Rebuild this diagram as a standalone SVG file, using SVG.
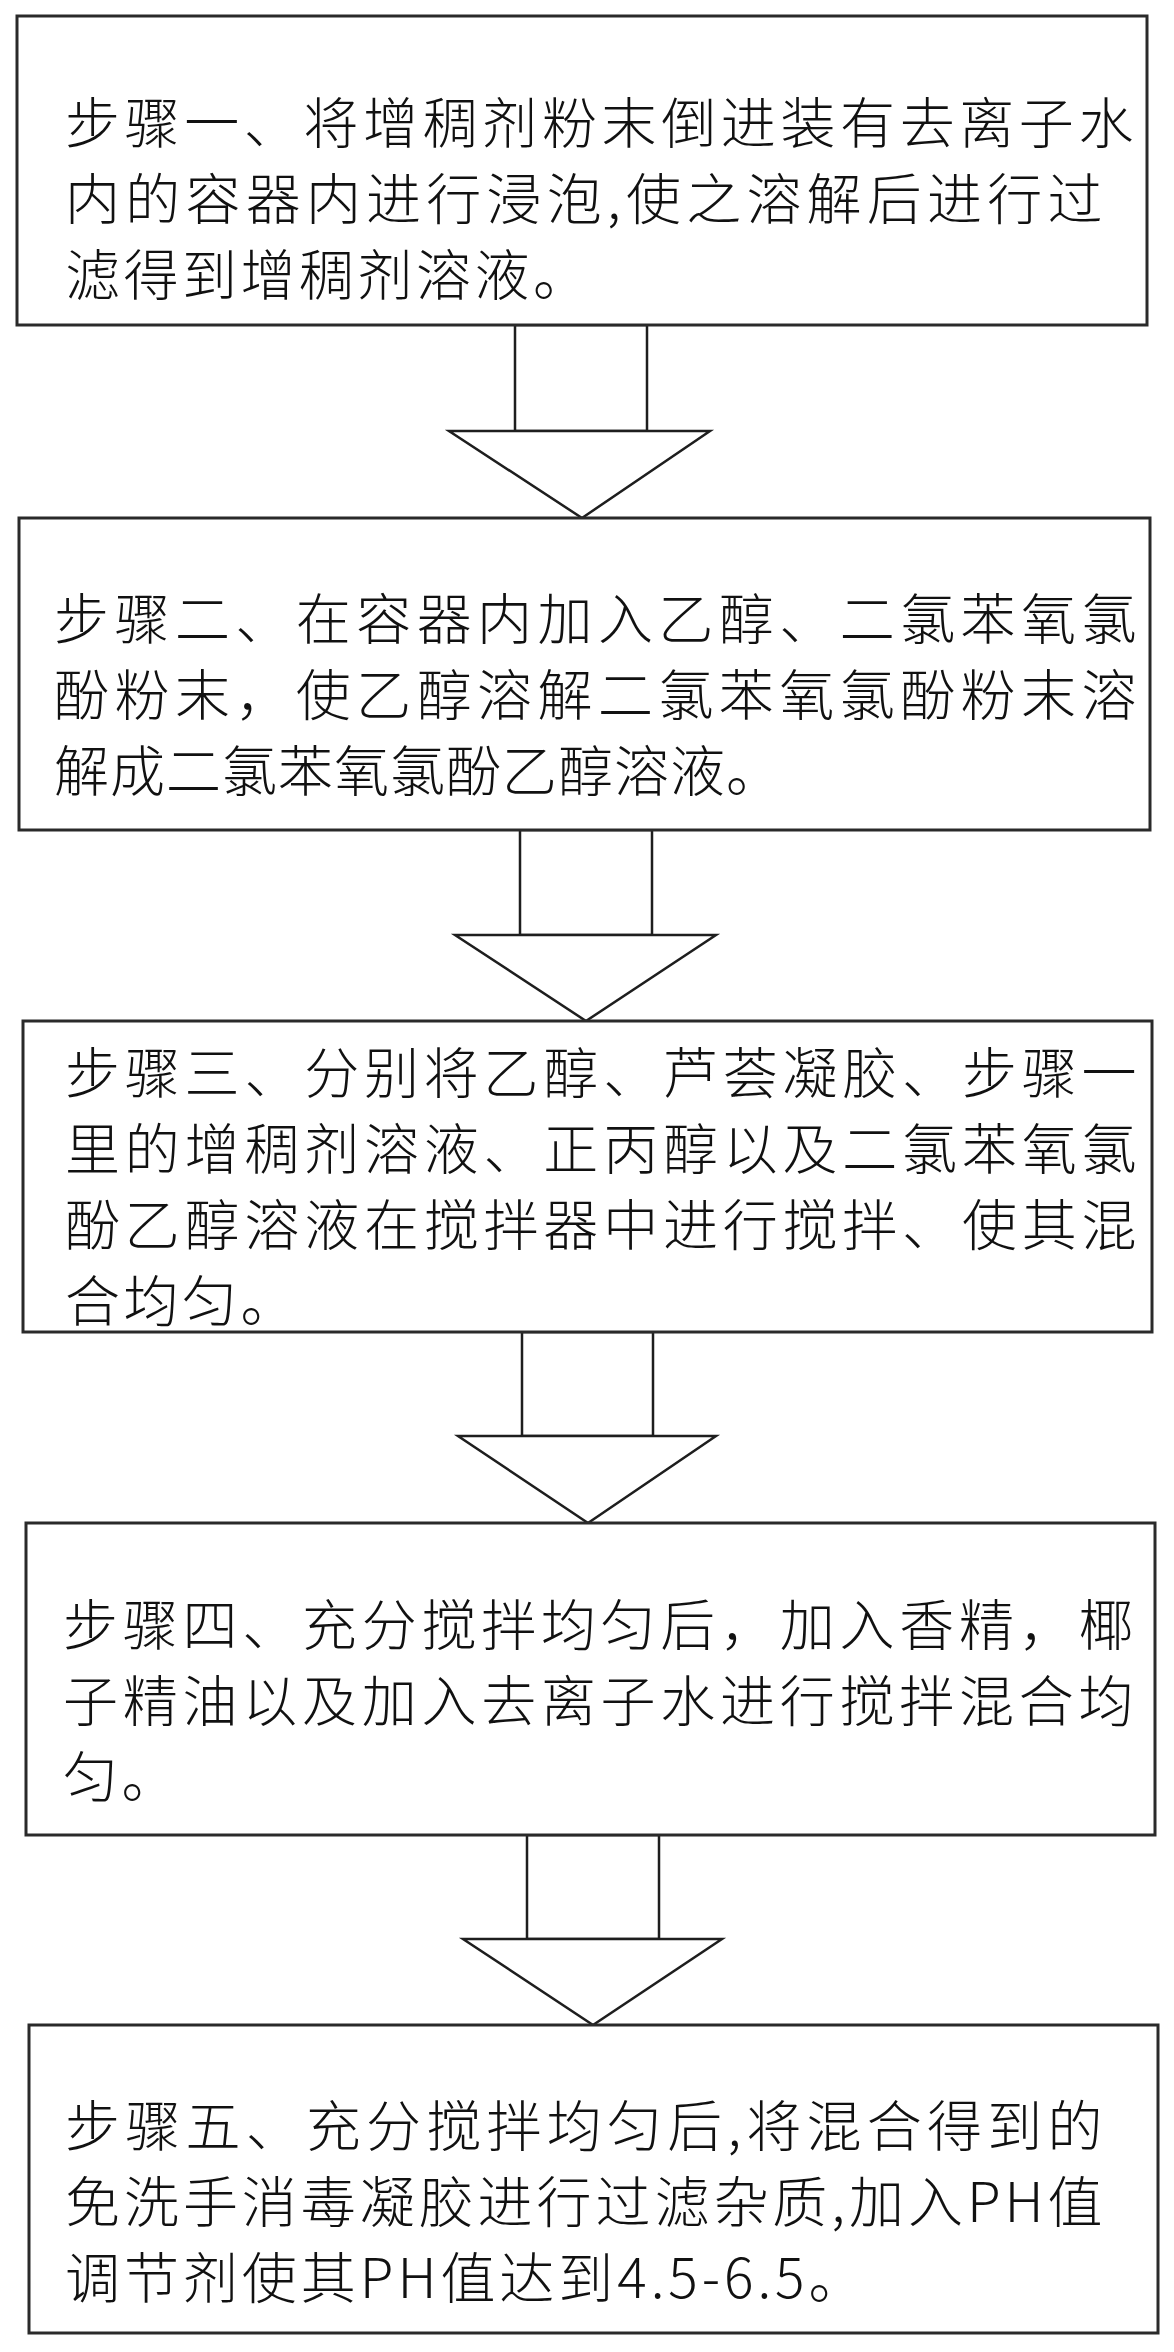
<svg xmlns="http://www.w3.org/2000/svg" width="1174" height="2352" viewBox="0 0 1174 2352">
<style>
.box{fill:#fff;stroke:#2a2a2a;stroke-width:3}
.arr{fill:#fff;stroke:#1e1e1e;stroke-width:2.5;stroke-linejoin:miter}
.t{font-family:"Noto Sans CJK SC","Noto Sans CJK JP",sans-serif;font-size:55px;font-weight:300;fill:#111;letter-spacing:3.5px}
.t2{letter-spacing:1px}
</style>
<rect width="1174" height="2352" fill="#fff"/>
<g id="connectors">
  <g id="arrow1">
    <rect class="arr" x="515" y="325" width="132" height="106"/>
    <polygon class="arr" points="449,431 710,431 582,518"/>
  </g>
  <g id="arrow2">
    <rect class="arr" x="520" y="830" width="132" height="105"/>
    <polygon class="arr" points="455,935 716,935 586,1021"/>
  </g>
  <g id="arrow3">
    <rect class="arr" x="522" y="1332" width="131" height="104"/>
    <polygon class="arr" points="458,1436 716,1436 588,1523"/>
  </g>
  <g id="arrow4">
    <rect class="arr" x="527" y="1835" width="132" height="104"/>
    <polygon class="arr" points="463,1939 722,1939 593,2025"/>
  </g>
</g>
<g id="step1">
  <rect class="box" x="17" y="16" width="1130" height="309"/>
  <text class="t" x="65" y="143" textLength="1072">步骤一、将增稠剂粉末倒进装有去离子水</text>
  <text class="t" x="65" y="219" textLength="1041">内的容器内进行浸泡,使之溶解后进行过</text>
  <text class="t" x="65" y="295">滤得到增稠剂溶液。</text>
</g>
<g id="step2">
  <rect class="box" x="19" y="518" width="1131" height="312"/>
  <text class="t" x="54" y="639" textLength="1086">步骤二、在容器内加入乙醇、二氯苯氧氯</text>
  <text class="t" x="54" y="715" textLength="1086">酚粉末，使乙醇溶解二氯苯氧氯酚粉末溶</text>
  <text class="t t2" x="54" y="791">解成二氯苯氧氯酚乙醇溶液。</text>
</g>
<g id="step3">
  <rect class="box" x="23" y="1021" width="1129" height="311"/>
  <text class="t" x="65" y="1093" textLength="1075">步骤三、分别将乙醇、芦荟凝胶、步骤一</text>
  <text class="t" x="65" y="1169" textLength="1075">里的增稠剂溶液、正丙醇以及二氯苯氧氯</text>
  <text class="t" x="65" y="1245" textLength="1075">酚乙醇溶液在搅拌器中进行搅拌、使其混</text>
  <text class="t" x="65" y="1321">合均匀。</text>
</g>
<g id="step4">
  <rect class="box" x="26" y="1523" width="1129" height="312"/>
  <text class="t" x="63" y="1645" textLength="1074">步骤四、充分搅拌均匀后，加入香精，椰</text>
  <text class="t" x="63" y="1721" textLength="1074">子精油以及加入去离子水进行搅拌混合均</text>
  <text class="t" x="63" y="1797">匀。</text>
</g>
<g id="step5">
  <rect class="box" x="29" y="2025" width="1129" height="308"/>
  <text class="t" x="65" y="2146" textLength="1041">步骤五、充分搅拌均匀后,将混合得到的</text>
  <text class="t" x="65" y="2222" textLength="1041">免洗手消毒凝胶进行过滤杂质,加入PH值</text>
  <text class="t" x="65" y="2298" textLength="802">调节剂使其PH值达到4.5-6.5。</text>
</g>
</svg>
